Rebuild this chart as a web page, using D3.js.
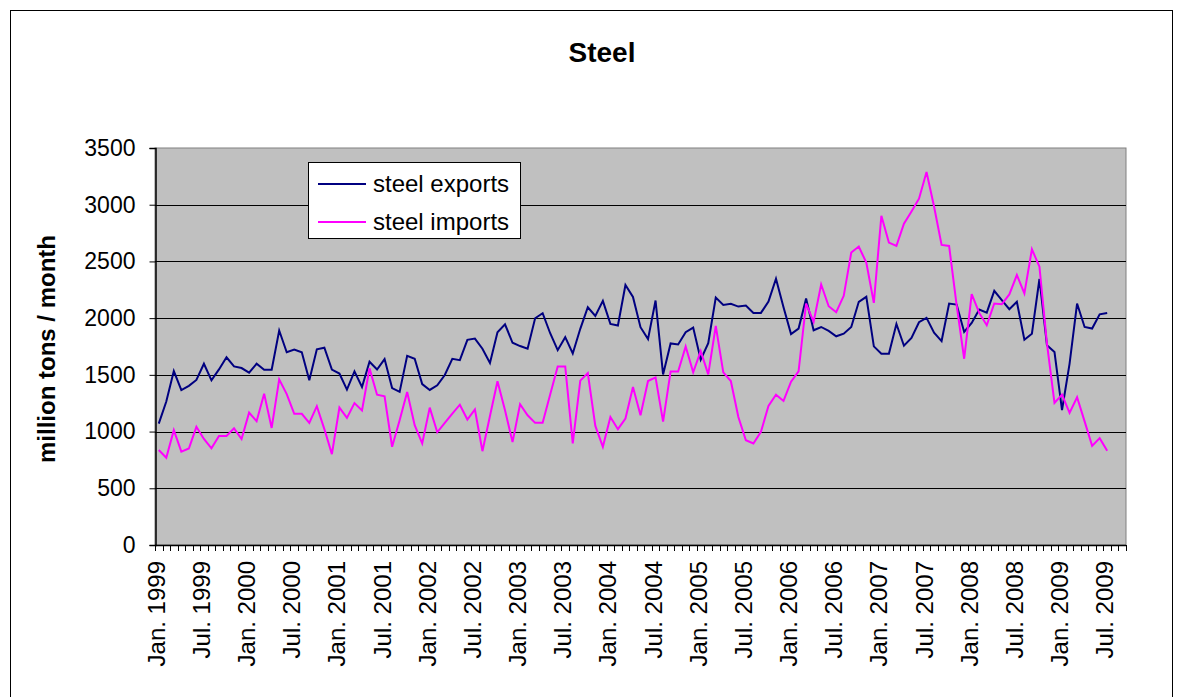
<!DOCTYPE html>
<html>
<head>
<meta charset="utf-8">
<script src="https://cdn.jsdelivr.net/npm/d3@7/dist/d3.min.js"></script>
<style>
  html, body { margin: 0; padding: 0; background: #fff; }
  svg { display: block; font-family: "Liberation Sans", Arial, sans-serif; }
</style>
</head>
<body>
<svg id="chart" width="1183" height="697"></svg>
<script>
const title = "Steel";
const yTitle = "million tons / month";
const seriesNames = ["steel exports", "steel imports"];
const seriesColors = ["#000080", "#FF00FF"];
const monthNames = ["Jan.", "Feb.", "Mar.", "Apr.", "May", "Jun.", "Jul.", "Aug.", "Sep.", "Oct.", "Nov.", "Dec."];
const startYear = 1999;
const categoryCount = 129; // Jan. 1999 .. Sep. 2009
const tickLabels = ["Jan. 1999","Jul. 1999","Jan. 2000","Jul. 2000","Jan. 2001","Jul. 2001","Jan. 2002","Jul. 2002","Jan. 2003","Jul. 2003","Jan. 2004","Jul. 2004","Jan. 2005","Jul. 2005","Jan. 2006","Jul. 2006","Jan. 2007","Jul. 2007","Jan. 2008","Jul. 2008","Jan. 2009","Jul. 2009"];
const yTicks = [0, 500, 1000, 1500, 2000, 2500, 3000, 3500];

const exportsData = [
1070,1265,1533,1366,1403,1455,1598,1452,1548,1655,1574,1560,
1520,1598,1545,1545,1891,1699,1724,1699,1452,1725,1739,1547,
1512,1370,1531,1393,1616,1547,1639,1384,1350,1668,1642,1419,
1367,1408,1499,1642,1630,1809,1820,1730,1604,1876,1946,1783,
1754,1730,1999,2043,1867,1718,1832,1689,1906,2096,2020,2152,
1949,1935,2292,2187,1920,1815,2155,1504,1777,1768,1876,1917,
1633,1780,2181,2117,2126,2102,2111,2046,2046,2146,2348,2096,
1860,1908,2173,1893,1922,1887,1840,1863,1922,2144,2188,1751,
1686,1686,1949,1757,1825,1964,2002,1872,1798,2129,2120,1878,
1958,2076,2049,2241,2159,2079,2144,1810,1863,2345,1760,1701,
1190,1597,2129,1922,1908,2034,2046];

const importsData = [
837,769,1012,823,851,1042,935,852,962,962,1028,934,
1167,1091,1334,1032,1460,1330,1157,1157,1077,1224,1022,801,
1211,1120,1251,1186,1557,1325,1311,866,1100,1349,1056,895,
1211,994,1077,1159,1237,1106,1195,827,1138,1443,1188,907,
1241,1144,1077,1077,1326,1574,1574,895,1449,1516,1050,866,
1129,1021,1115,1393,1144,1446,1478,1088,1530,1530,1750,1522,
1709,1504,1932,1522,1446,1129,924,895,998,1226,1325,1270,
1440,1530,2129,1967,2297,2105,2052,2197,2578,2631,2489,2135,
2903,2666,2637,2832,2941,3053,3289,2985,2646,2637,2114,1642,
2212,2046,1937,2129,2123,2209,2380,2218,2607,2454,1775,1252,
1326,1165,1302,1090,874,942,830];

const categories = [];
for (let i = 0; i < categoryCount; i++) {
  categories.push(monthNames[i % 12] + " " + (startYear + Math.floor(i / 12)));
}

const svg = d3.select("#chart");
const W = 1183, H = 697;
const plot = { left: 155, right: 1126, top: 148, bottom: 545 };

svg.append("rect").attr("x", 0).attr("y", 0).attr("width", W).attr("height", H).attr("fill", "#fff");
// outer chart border
svg.append("rect").attr("x", 10.5).attr("y", 10.5).attr("width", 1162).attr("height", 720)
  .attr("fill", "none").attr("stroke", "#000").attr("stroke-width", 1);

const x = d3.scaleBand().domain(categories).range([plot.left, plot.right]).padding(0);
const y = d3.scaleLinear().domain([0, 3500]).range([plot.bottom, plot.top]);

// plot area
svg.append("rect").attr("x", plot.left).attr("y", plot.top)
  .attr("width", plot.right - plot.left).attr("height", plot.bottom - plot.top)
  .attr("fill", "#C0C0C0").attr("stroke", "#808080").attr("stroke-width", 1);

// gridlines
svg.append("g").selectAll("line").data(yTicks.filter(d => d > 0 && d < 3500)).join("line")
  .attr("x1", plot.left).attr("x2", plot.right)
  .attr("y1", d => Math.round(y(d)) + 0.5).attr("y2", d => Math.round(y(d)) + 0.5)
  .attr("stroke", "#000").attr("stroke-width", 1);

// y axis
const yAxis = d3.axisLeft(y).tickValues(yTicks).tickSize(6).tickPadding(14).tickFormat(d3.format("d"));
const gy = svg.append("g").attr("transform", `translate(${plot.left + 0.5},0)`).call(yAxis);
gy.select(".domain").attr("stroke", "#000").attr("stroke-width", 1.5);
gy.selectAll(".tick line").attr("stroke", "#000");
gy.selectAll(".tick text").attr("font-size", 23).attr("fill", "#000")
  .attr("font-family", "Liberation Sans, Arial, sans-serif");

// x axis: ticks at every category boundary
const bounds = categories.map(c => x(c)).concat([plot.right]);
const gx = svg.append("g");
gx.append("line").attr("x1", plot.left).attr("x2", plot.right)
  .attr("y1", plot.bottom + 0.5).attr("y2", plot.bottom + 0.5).attr("stroke", "#000").attr("stroke-width", 1.5);
gx.selectAll("line.tk").data(bounds).join("line").attr("class", "tk")
  .attr("x1", d => Math.round(d) + 0.5).attr("x2", d => Math.round(d) + 0.5)
  .attr("y1", plot.bottom).attr("y2", plot.bottom + 6).attr("stroke", "#000").attr("stroke-width", 1);

const labelled = categories.filter(c => tickLabels.includes(c));
gx.selectAll("text").data(labelled).join("text")
  .attr("transform", d => `translate(${x(d) + x.bandwidth() / 2 + 6},${plot.bottom + 16}) rotate(-90)`)
  .attr("text-anchor", "end")
  .attr("font-size", 24).attr("fill", "#000")
  .text(d => d);

// lines
const seriesList = [exportsData, importsData];
const line = d3.line()
  .x((d, i) => x(categories[i]) + x.bandwidth() / 2)
  .y(d => y(d));
seriesList.forEach((s, k) => {
  svg.append("path").datum(s).attr("d", line)
    .attr("fill", "none").attr("stroke", seriesColors[k]).attr("stroke-width", 2)
    .attr("stroke-linejoin", "miter");
});

// title
svg.append("text").attr("x", 602).attr("y", 62).attr("text-anchor", "middle")
  .attr("font-size", 28).attr("font-weight", "bold").text(title);

// y title
svg.append("text").attr("transform", `translate(55,349) rotate(-90)`).attr("text-anchor", "middle")
  .attr("font-size", 24).attr("font-weight", "bold").text(yTitle);

// legend
const lg = svg.append("g");
lg.append("rect").attr("x", 308.5).attr("y", 162.5).attr("width", 212).attr("height", 76)
  .attr("fill", "#fff").attr("stroke", "#000").attr("stroke-width", 1);
seriesNames.forEach((n, k) => {
  const yy = 184 + k * 38;
  lg.append("line").attr("x1", 318).attr("x2", 366).attr("y1", yy).attr("y2", yy)
    .attr("stroke", seriesColors[k]).attr("stroke-width", 2);
  lg.append("text").attr("x", 373).attr("y", yy + 8).attr("font-size", 24).text(n);
});
</script>
</body>
</html>
